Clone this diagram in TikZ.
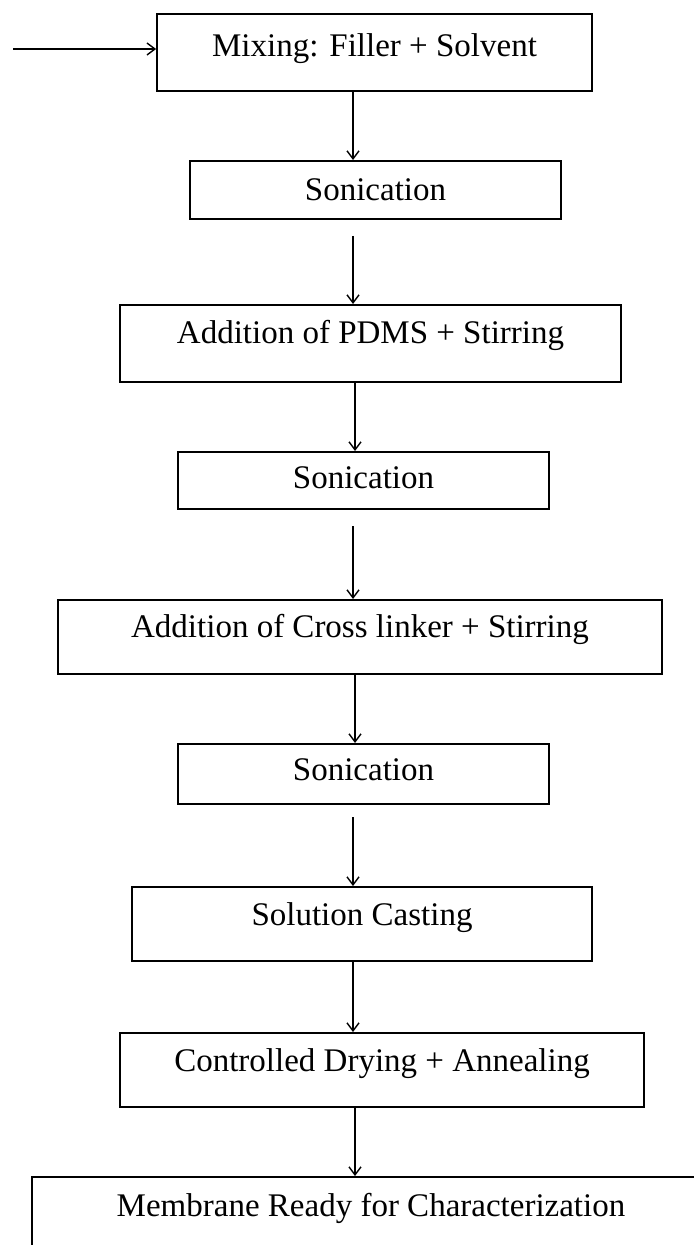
\documentclass[tikz,border=0pt]{standalone}
\usepackage{fontspec}
\setmainfont{Liberation Serif}
\usetikzlibrary{arrows.meta}
\tikzset{
  box/.style={draw=black, line width=0.9pt, rectangle, inner sep=0pt, anchor=north,
    font=\fontsize{16.5}{20}\selectfont, align=center},
  arr/.style={draw=black, line width=0.7pt, -{Straight Barb[length=4pt,width=6pt,line width=0.7pt]}}
}
\begin{document}
\begin{tikzpicture}[x=0.5pt,y=-0.5pt]
\useasboundingbox (0,0) rectangle (693,1245);
% boxes: anchor north at (center x, top)
\node[box, minimum width=217.5pt, text height=21.5pt, text depth=17pt] (b1) at (374.5,13) {Mixing: Filler + Solvent};
\node[box, minimum width=185.5pt, text height=20pt, text depth=9pt] (b2) at (375.5,160) {Sonication};
\node[box, minimum width=250.5pt, text height=19.5pt, text depth=19pt] (b3) at (370.5,304) {Addition of PDMS + Stirring};
\node[box, minimum width=185.5pt, text height=18.5pt, text depth=10pt] (b4) at (363.5,451) {Sonication};
\node[box, minimum width=302pt, text height=19pt, text depth=18pt] (b5) at (360,599) {Addition of Cross linker + Stirring};
\node[box, minimum width=185.5pt, text height=18.5pt, text depth=11.5pt] (b6) at (363.5,743) {Sonication};
\node[box, minimum width=230pt, text height=19.5pt, text depth=17.5pt] (b7) at (362,886) {Solution Casting};
\node[box, minimum width=262pt, text height=19.5pt, text depth=17.5pt] (b8) at (382,1032) {Controlled Drying + Annealing};
\node[box, minimum width=339pt, text height=20pt, text depth=27pt] (b9) at (371,1176) {Membrane Ready for Characterization};
% connector x positions and free ends
\coordinate (xa) at (353,0);
\coordinate (xb) at (355,0);
\coordinate (in) at (13,49);
\coordinate (s2) at (353,236);
\coordinate (s4) at (353,526);
\coordinate (s6) at (353,817);
% connectors
\draw[arr] (in) -- (in -| b1.west);
\draw[arr] (b1.south -| xa) -- (b2.north -| xa);
\draw[arr] (s2) -- (b3.north -| s2);
\draw[arr] (b3.south -| xb) -- (b4.north -| xb);
\draw[arr] (s4) -- (b5.north -| s4);
\draw[arr] (b5.south -| xb) -- (b6.north -| xb);
\draw[arr] (s6) -- (b7.north -| s6);
\draw[arr] (b7.south -| xa) -- (b8.north -| xa);
\draw[arr] (b8.south -| xb) -- (b9.north -| xb);
\end{tikzpicture}
\end{document}
